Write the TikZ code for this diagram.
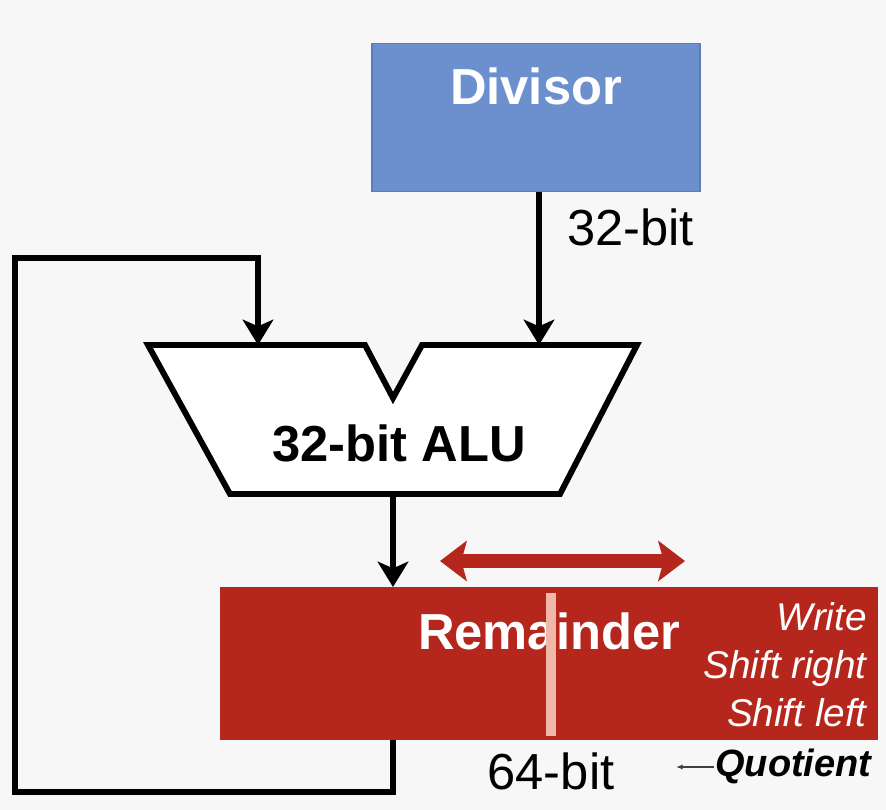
\documentclass[tikz,border=0pt]{standalone}
\usepackage{fontspec}
\setmainfont{Liberation Sans}
\usetikzlibrary{arrows.meta}

\definecolor{divblue}{RGB}{108,144,205}
\definecolor{divedge}{RGB}{90,125,185}
\definecolor{remred}{RGB}{181,38,28}
\definecolor{stripred}{RGB}{240,184,168}
\definecolor{bggray}{RGB}{247,247,247}

\tikzset{
  wire/.style={line width=4.4pt},
  tip/.style={-{Stealth[length=19pt,width=23pt,inset=5pt]}},
  bigtext/.style={font=\fontsize{38}{40}\selectfont\bfseries, inner sep=0.75pt},
  widthtext/.style={font=\fontsize{38}{40}\selectfont, inner sep=0.75pt},
  optext/.style={font=\fontsize{29}{31}\selectfont\itshape, text=white, anchor=base east, inner sep=0.75pt},
}

\begin{document}
\begin{tikzpicture}[x=0.75pt,y=0.75pt,yscale=-1,xscale=1]

%set diagram size to 886 x 810
\useasboundingbox[fill=bggray] (0,0) rectangle (886,810);

%Shape: Divisor box
\node (divisor) [draw=divedge, line width=1pt, fill=divblue, minimum width=246pt, minimum height=111pt, inner sep=0pt] at (536,117.5) {};
% Text Node
\node (divisorlabel) [bigtext, text=white] at (536,86) {Divisor};
% Text Node
\node (divwidth) [widthtext, anchor=west] at (566,227) {32-bit};

%Shape: ALU
\coordinate (aluinA) at (258,345);
\coordinate (aluinB) at (539,345);
\coordinate (aluout) at (393,494);
\draw [wire, line join=miter, fill=white] (148,345) -- (365,345) -- (393,398) -- (422,345) -- (637,345) -- (560,494) -- (230,494) -- cycle;
% Text Node
\node (alu) [bigtext] at (399,443) {32-bit ALU};

%Shape: Remainder box
\node (rem) [fill=remred, minimum width=493.5pt, minimum height=114.75pt, inner sep=0pt] at (549,663.5) {};
% Text Node
\node (remlabel) [bigtext, text=white] at (549,631) {Remainder};
% Text Nodes
\node (opwrite) [optext] at (868,630) {Write};
\node (opright) [optext] at (868,678) {Shift right};
\node (opleft) [optext] at (868,726) {Shift left};
%Shape: middle strip
\fill [stripred] (546,593) rectangle (556,736);
\coordinate (remin) at (393,587);
\coordinate (remout) at (393,740);

% Text Node
\node (remwidth) [widthtext] at (551,771) {64-bit};
% Text Node
\node (quotient) [font=\fontsize{28.5}{30}\selectfont\bfseries\itshape, anchor=west, inner sep=0.75pt] at (714,766) {Quotient};
\coordinate (quotend) at (676,767);

%Straight Lines
\draw [wire, tip] (divisor.south -| aluinB) -- (aluinB);
\draw [wire, tip] (aluout) -- (remin);
\draw [line width=1pt, black!75, -{Latex[length=5pt,width=4pt]}] (quotient.west |- quotend) -- (quotend);

%Feedback loop
\coordinate (loopbl) at (15,792);
\coordinate (looptl) at (15,258);
\draw [wire, tip] (remout) |- (loopbl) -- (looptl) -| (aluinA);

%Double arrow: shift direction
\coordinate (shiftl) at (440,561);
\coordinate (shiftr) at (685,561);
\draw [remred, line width=11pt, {Stealth[length=20pt,width=30pt,inset=4pt]}-{Stealth[length=20pt,width=30pt,inset=4pt]}] (shiftl) -- (shiftr);

\end{tikzpicture}
\end{document}
